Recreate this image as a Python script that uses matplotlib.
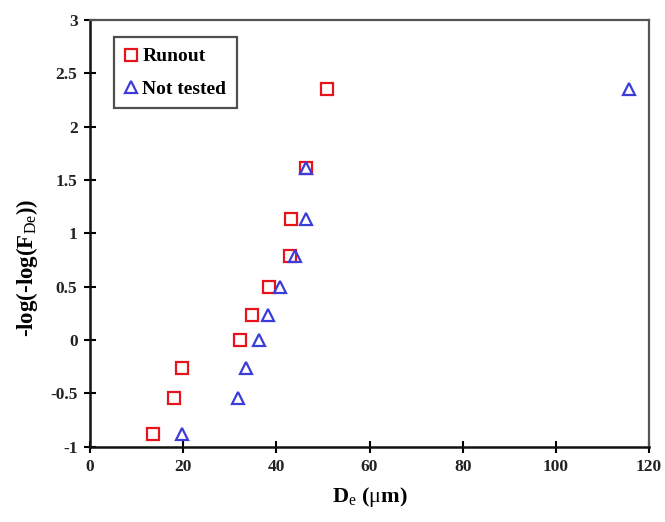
import matplotlib as mpl
mpl.use("Agg")
import matplotlib.pyplot as plt

plt.rcParams["font.family"] = ["Liberation Serif", "DejaVu Serif"]
plt.rcParams["mathtext.fontset"] = "custom"
plt.rcParams["mathtext.rm"] = "Liberation Serif"
plt.rcParams["mathtext.it"] = "Liberation Serif:italic"
plt.rcParams["mathtext.bf"] = "Liberation Serif:bold"

# data
runout_x = [13.6, 18.1, 19.8, 32.3, 34.8, 38.4, 42.9, 43.2, 46.3, 50.9]
runout_y = [-0.88, -0.54, -0.265, 0.0, 0.235, 0.5, 0.79, 1.135, 1.61, 2.35]
nottested_x = [19.8, 31.8, 33.4, 36.3, 38.3, 40.8, 43.9, 46.3, 46.3, 115.6]
nottested_y = [-0.88, -0.54, -0.265, 0.0, 0.235, 0.5, 0.79, 1.135, 1.61, 2.35]

x_ticks = [0, 20, 40, 60, 80, 100, 120]
y_ticks = [-1, -0.5, 0, 0.5, 1, 1.5, 2, 2.5, 3]
y_tick_labels = ["-1", "-0.5", "0", "0.5", "1", "1.5", "2", "2.5", "3"]

fig = plt.figure(figsize=(6.65, 5.22), dpi=100)
ax = fig.add_axes([90 / 665, 1 - 446.7 / 522, (649 - 90) / 665, (446.7 - 20) / 522])

ax.plot(runout_x, runout_y, linestyle="none", marker="s", markersize=8.5,
        markerfacecolor="none", markeredgecolor="#e8141c", markeredgewidth=1.6,
        label="Runout")
ax.plot(nottested_x, nottested_y, linestyle="none", marker="^", markersize=8.5,
        markerfacecolor="none", markeredgecolor="#3c3cd8", markeredgewidth=1.6,
        label="Not tested")

ax.set_xlim(0, 120)
ax.set_ylim(-1, 3)
ax.set_xticks(x_ticks)
ax.set_xticklabels([str(t) for t in x_ticks])
ax.set_yticks(y_ticks)
ax.set_yticklabels(y_tick_labels)
ax.tick_params(direction="inout", length=8, width=1.5, labelsize=12.5, pad=5)
for lab in ax.get_xticklabels() + ax.get_yticklabels():
    lab.set_fontweight("bold")
    lab.set_color("#222222")

for side in ["left", "bottom"]:
    ax.spines[side].set_linewidth(1.8)
    ax.spines[side].set_color("#111111")
for side in ["top", "right"]:
    ax.spines[side].set_linewidth(1.6)
    ax.spines[side].set_color("#555555")

ax.set_xlabel(r"D$_{\mathrm{e}}$ ($\mathrm{\mu}$m)", fontsize=16, fontweight="bold", labelpad=7)
ax.set_ylabel(r"-log(-log(F$_{\mathrm{De}}$))", fontsize=16.5, fontweight="bold")
ax.yaxis.set_label_coords(-0.09, 0.42)

leg = ax.legend(loc="upper left", bbox_to_anchor=(0.043, 0.960), borderaxespad=0,
                frameon=True, fancybox=False, edgecolor="#222222", handlelength=0.6,
                handletextpad=0.3, borderpad=0.55, labelspacing=0.75,
                prop={"size": 14, "weight": "bold"})
leg.get_frame().set_linewidth(1.6)

fig.savefig("out.png", dpi=100)
